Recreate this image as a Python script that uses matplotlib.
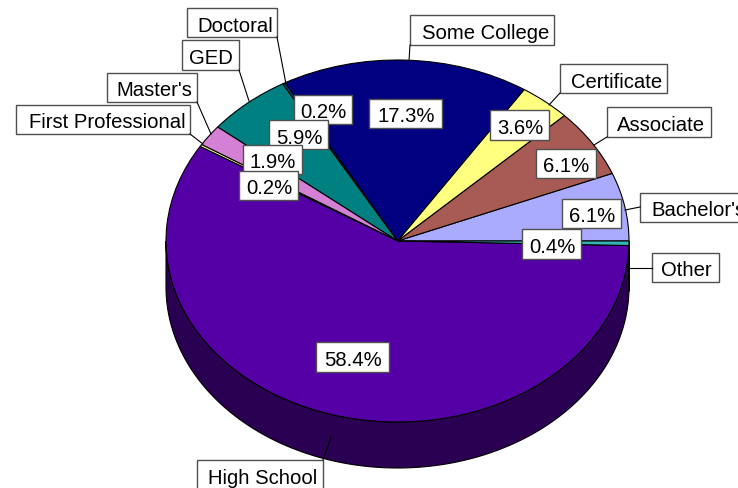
import numpy as np
import matplotlib
matplotlib.use("Agg")
import matplotlib.pyplot as plt
from matplotlib.patches import Polygon, Rectangle

plt.rcParams["font.family"] = ["Liberation Sans", "DejaVu Sans"]

# counter-clockwise from 3 o'clock, as they sit on the picture
categories = ["Bachelor's", "Associate", "Certificate", "Some College", "Doctoral",
              "GED", "Master's", "First Professional", "High School", "Other"]
shares = [6.1, 6.1, 3.6, 17.3, 0.2, 5.9, 1.9, 0.2, 58.4, 0.4]
colors = ["#AAAAFF", "#A85A54", "#FFFF80", "#000080", "#004080",
          "#008080", "#D480D4", "#FFFFA0", "#5500A6", "#33B5B5"]
side_colors = ["#55557F", "#542D2A", "#7F7F40", "#000040", "#002040",
               "#004040", "#6A406A", "#7F7F50", "#2A0053", "#1A5A5A"]

W, H = 738, 489
CX, CY, RX, RY, DEPTH = 397.5, 242.0, 231.5, 181.0, 46.0
FONT = 14.6

# box (left, top, right, bottom), text x, leader start and end
name_layout = {
    "Bachelor's": ((640, 194, 745, 223), 651, (640, 208), (625, 211)),
    "Associate": ((607, 108, 711, 138), 617, (607, 138), (594, 146)),
    "Certificate": ((560, 65, 667, 94), 571, (560, 94), (549, 106)),
    "Some College": ((410, 16, 554, 46), 422, (410, 46), (409, 62)),
    "Doctoral": ((187, 9, 277, 38), 197, (277, 38), (286, 85)),
    "GED": ((182, 41, 239, 71), 189, (239, 71), (249, 102)),
    "Master's": ((107, 74, 197, 103), 116, (197, 103), (211, 135)),
    "First Professional": ((16, 106, 190, 135), 29, (190, 135), (203, 145)),
    "High School": ((197, 461, 323, 495), 208, (323, 461), (331, 438)),
    "Other": ((652, 254, 719, 283), 661, (652, 269), (628, 269)),
}
pct_layout = {
    "Doctoral": (294, 96, 352, 125),
    "GED": (269, 121, 328, 150),
    "Master's": (243, 146, 302, 175),
    "First Professional": (239, 172, 298, 201),
    "Some College": (369, 100, 442, 129),
    "Certificate": (490, 111, 549, 141),
    "Associate": (536, 150, 596, 179),
    "Bachelor's": (562, 200, 621, 229),
    "Other": (522, 230, 581, 260),
    "High School": (316, 343, 389, 373),
}

fig = plt.figure(figsize=(W / 100, H / 100), dpi=100)
ax = fig.add_axes([0, 0, 1, 1])
wedges, _ = ax.pie(shares, colors=colors, startangle=0, counterclock=True,
                   wedgeprops=dict(edgecolor="black", linewidth=0.8))
for w in wedges:
    w.set_zorder(3)
ax.set_aspect("auto")
ax.set_xlim(-CX / RX, (W - CX) / RX)
ax.set_ylim(-(H - CY) / RY, CY / RY)
ax.axis("off")

# side wall: only the part of each slice on the lower half of the ellipse
for w, side in zip(wedges, side_colors):
    a = max(w.theta1, 180)
    b = min(w.theta2, 360)
    if b <= a:
        continue
    t = np.radians(np.linspace(a, b, 200))
    x, y = np.cos(t), np.sin(t)
    pts = np.r_[np.c_[x, y], np.c_[x, y - DEPTH / RY][::-1]]
    ax.add_patch(Polygon(pts, closed=True, facecolor=side, edgecolor="black",
                         linewidth=0.8, zorder=2))

# labels are placed in picture pixels on an overlay
over = fig.add_axes([0, 0, 1, 1])
over.set_xlim(0, W)
over.set_ylim(H, 0)
over.axis("off")
over.patch.set_alpha(0)


def label_box(box, text, text_x=None):
    x0, y0, x1, y1 = box
    over.add_patch(Rectangle((x0, y0), x1 - x0, y1 - y0, facecolor="white",
                             edgecolor="#505050", linewidth=1.0))
    # High School's box runs off the bottom, its text sits at the usual spot
    y_mid = y0 + 14.5 if y1 > H else (y0 + y1) / 2
    if text_x is None:
        over.text((x0 + x1) / 2 + 0.5, y_mid + 2.5, text, fontsize=FONT,
                  ha="center", va="center", color="black")
    else:
        over.text(text_x, y_mid + 2.5, text, fontsize=FONT,
                  ha="left", va="center", color="black")


for name in categories:
    box, text_x, start, end = name_layout[name]
    over.plot([start[0], end[0]], [start[1], end[1]], color="black", lw=0.8)
    label_box(box, name, text_x)

for name, box in pct_layout.items():
    label_box(box, f"{shares[categories.index(name)]:.1f}%")

fig.savefig("out.png", dpi=100)
